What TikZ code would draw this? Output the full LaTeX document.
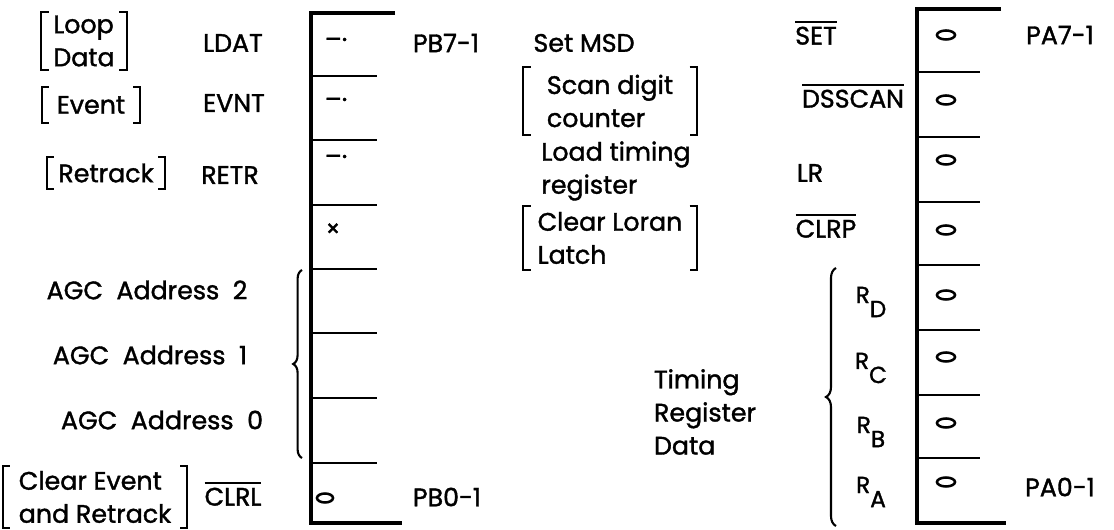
\documentclass[tikz,border=0pt]{standalone}
\usepackage{fontspec}
\setmainfont{Poppins}[FakeBold=1.4]
\usetikzlibrary{decorations.pathreplacing}
\newcommand\sigfont{\fontsize{18}{23.5}\selectfont}
\newcommand\barred[1]{\vbox{\hrule height 1.4pt\kern 2.5pt\hbox{#1}}}
\newcommand\regbit[1]{{\fontsize{16.5}{16.5}\selectfont R\raisebox{-10pt}{#1}}}

\begin{document}
\begin{tikzpicture}[
    x=0.025cm, y=-0.025cm,
    every node/.style={font=\sigfont, inner sep=0pt, align=left},
    portedge/.style={line width=2.4pt},
    portline/.style={line width=1.9pt},
    bracket/.style={line width=1.5pt},
    lowbit/.style={line width=1.8pt}
]
\useasboundingbox (0,0) rectangle (1114,530);

% port B register
\draw[portedge] (395,13) -- (311,13) -- (311,523) -- (402,523);
\foreach \y in {76,140,205,269,333,398,463}
    \draw[portline] (311,\y) -- (377,\y);

% port A register
\draw[portedge] (1001,9) -- (917,9) -- (917,523) -- (1006,523);
\foreach \y in {72,137,202,265,330,395,458}
    \draw[portline] (917,\y) -- (980,\y);

% port B labels
\node[minimum width=2.12cm, minimum height=1.45cm] (loop) at (84,41) {Loop\\Data};
\node[minimum width=2.45cm, minimum height=0.88cm] (event) at (91,105) {Event};
\node[minimum width=2.95cm, minimum height=0.8cm] (retrack) at (106,173) {Retrack};
\node (ldat) at (233,43) {LDAT};
\node (evnt) at (234,103) {EVNT};
\node (retr) at (230,175) {RETR};
\node (agctwo) at (147,290) {AGC~ Address~ 2};
\node (agcone) at (150,355) {AGC~ Address~ 1};
\node (agczero) at (162,420) {AGC~ Address~ 0};
\node[minimum width=4.6cm, minimum height=1.52cm] (clear) at (95,497) {Clear Event\\and Retrack};
\node (clrl) at (233,494) {\barred{CLRL}};
\node (pbseven) at (446,43) {PB7-1};
\node (pbzero) at (447,497) {PB0-1};

% port A labels
\node (setmsd) at (584,43) {Set MSD};
\node[minimum width=4.32cm, minimum height=1.7cm] (scan) at (610,101) {Scan digit\\counter};
\node (load) at (616,171) {Load timing\\register};
\node[minimum width=4.32cm, minimum height=1.58cm] (loran) at (610,238) {Clear Loran\\Latch};
\node (timing) at (705,412) {Timing\\Register\\Data};
\node (set) at (816,33) {\barred{SET}};
\node (dsscan) at (853,96) {\barred{DSSCAN}};
\node (lr) at (810,173) {LR};
\node (clrp) at (826,226) {\barred{CLRP}};
\node (rd) at (871,302) {\regbit{D}};
\node (rc) at (871,368) {\regbit{C}};
\node (rb) at (871,432) {\regbit{B}};
\node (ra) at (871,492) {\regbit{A}};
\node (paseven) at (1060,35) {PA7-1};
\node (pazero) at (1060,487) {PA0-1};

% bit marks
\foreach \y [count=\i] in {43,103,160}
    \node (tick\i) at (336,\y) {–·};
\node (cross) at (333,230) {\fontsize{16}{16}\selectfont ×};
\draw[lowbit] (325,498) ellipse (8 and 4.5);
\foreach \y in {35,100,160,230,295,357,423,482}
    \draw[lowbit] (946,\y) ellipse (9 and 4.5);

% brackets and braces
\foreach \n in {loop,event,retrack,clear,scan,loran}
    \draw[bracket] ([xshift=0.18cm]\n.north west) -| (\n.south west) -- ++(0.18cm,0)
                   ([xshift=-0.18cm]\n.north east) -| (\n.south east) -- ++(-0.18cm,0);
\draw[bracket, decorate, decoration={brace, amplitude=0.22cm}] (302,458) -- (302,270);
\draw[bracket, decorate, decoration={brace, amplitude=0.25cm}] (836,526) -- (836,268);
\end{tikzpicture}
\end{document}
